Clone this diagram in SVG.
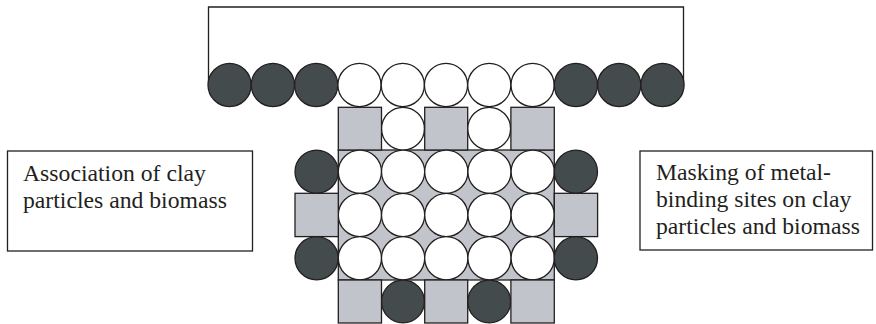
<svg xmlns="http://www.w3.org/2000/svg" width="876" height="324" viewBox="0 0 876 324">
<style>
.d{fill:#434b4d;stroke:#231f20;stroke-width:1.3}
.w{fill:#fff;stroke:#231f20;stroke-width:1.3}
.s{fill:#c2c4cb;stroke:#231f20;stroke-width:1.3}
.box{fill:#fff;stroke:#231f20;stroke-width:1.3}
.t{font-family:"Liberation Serif","Times New Roman","DejaVu Serif",serif;font-size:23.7px;fill:#231f20}
.ln{fill:none;stroke:#231f20;stroke-width:1.3}
</style>
<rect width="876" height="324" fill="#fff"/>
<g id="connectors">
<polyline class="ln" points="208.5,80 208.5,7 683.5,7 683.5,80"/>
</g>
<g id="top-chain">
<circle class="d" cx="229.6" cy="85" r="21.6"/>
<circle class="d" cx="272.9" cy="85" r="21.6"/>
<circle class="d" cx="316.2" cy="85" r="21.6"/>
<circle class="w" cx="359.5" cy="85" r="21.6"/>
<circle class="w" cx="402.8" cy="85" r="21.6"/>
<circle class="w" cx="446" cy="85" r="21.6"/>
<circle class="w" cx="489.3" cy="85" r="21.6"/>
<circle class="w" cx="532.6" cy="85" r="21.6"/>
<circle class="d" cx="575.9" cy="85" r="21.6"/>
<circle class="d" cx="619.2" cy="85" r="21.6"/>
<circle class="d" cx="662.5" cy="85" r="21.6"/>
</g>
<g id="aggregate">
<rect class="s" x="338.3" y="150" width="216" height="130"/>
<rect class="s" x="338.3" y="107.3" width="43.2" height="42.7"/>
<circle class="w" cx="403" cy="128.7" r="21.4"/>
<rect class="s" x="424.7" y="107.3" width="43" height="42.7"/>
<circle class="w" cx="489.2" cy="128.7" r="21.4"/>
<rect class="s" x="510.9" y="107.3" width="43.4" height="42.7"/>
<circle class="w" cx="359.9" cy="171.7" r="21.6"/>
<circle class="w" cx="403.1" cy="171.7" r="21.6"/>
<circle class="w" cx="446.3" cy="171.7" r="21.6"/>
<circle class="w" cx="489.5" cy="171.7" r="21.6"/>
<circle class="w" cx="532.7" cy="171.7" r="21.6"/>
<circle class="w" cx="359.9" cy="215" r="21.6"/>
<circle class="w" cx="403.1" cy="215" r="21.6"/>
<circle class="w" cx="446.3" cy="215" r="21.6"/>
<circle class="w" cx="489.5" cy="215" r="21.6"/>
<circle class="w" cx="532.7" cy="215" r="21.6"/>
<circle class="w" cx="359.9" cy="258.3" r="21.6"/>
<circle class="w" cx="403.1" cy="258.3" r="21.6"/>
<circle class="w" cx="446.3" cy="258.3" r="21.6"/>
<circle class="w" cx="489.5" cy="258.3" r="21.6"/>
<circle class="w" cx="532.7" cy="258.3" r="21.6"/>
<rect class="s" x="338.3" y="280" width="43.2" height="43"/>
<circle class="d" cx="403" cy="301.5" r="21.4"/>
<rect class="s" x="424.7" y="280" width="43" height="43"/>
<circle class="d" cx="489.2" cy="301.5" r="21.4"/>
<rect class="s" x="510.9" y="280" width="43.4" height="43"/>
<circle class="d" cx="316.6" cy="171.7" r="21.6"/>
<rect class="s" x="295" y="193.3" width="43.3" height="43.3"/>
<circle class="d" cx="316.6" cy="258.3" r="21.6"/>
<circle class="d" cx="575.9" cy="171.7" r="21.6"/>
<rect class="s" x="554.3" y="193.3" width="43.3" height="43.3"/>
<circle class="d" cx="575.9" cy="258.3" r="21.6"/>
</g>
<g id="label-left">
<rect class="box" x="7.5" y="151" width="245" height="100"/>
<text class="t" x="23" y="181">Association of clay</text>
<text class="t" x="23" y="208">particles and biomass</text>
</g>
<g id="label-right">
<rect class="box" x="640" y="151" width="232.5" height="99"/>
<text class="t" x="656" y="180">Masking of metal-</text>
<text class="t" x="656" y="207">binding sites on clay</text>
<text class="t" x="656" y="234">particles and biomass</text>
</g>
</svg>
